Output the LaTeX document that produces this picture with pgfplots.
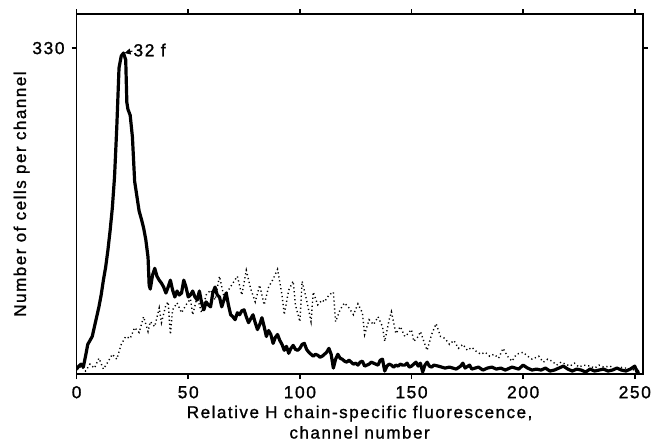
\documentclass[border=0pt]{standalone}
\usepackage{fontspec}
\setmainfont{Liberation Sans}[LetterSpace=9, FakeBold=1.2]
\usepackage{pgfplots}
\pgfplotsset{compat=1.18}
\usetikzlibrary{arrows.meta}

\begin{document}
\begin{tikzpicture}
\path[use as bounding box] (-38.3pt,-33.5pt) rectangle (287.7pt,187pt);
\begin{axis}[
  scale only axis, width=283pt, height=180pt,
  xmin=0, xmax=253.5, ymin=0, ymax=364.5,
  xtick={0,50,...,250}, ytick={330},
  tick align=outside, major tick length=2.5pt,
  axis line style={line width=0.9pt},
  tick style={line width=0.8pt, black},
  /pgf/number format/assume math mode=true,
  ticklabel style={font=\fontsize{8.7}{10}\selectfont},
  xlabel={Relative H chain-specific fluorescence,\\channel number},
  ylabel={Number of cells per channel},
  label style={font=\fontsize{8.5}{10.25}\selectfont},
  xlabel style={align=center, at={(axis description cs:0.5,-0.1792)}, anchor=base},
  ylabel style={at={(axis description cs:-0.0972,0.5)}, anchor=center},
]
% solid histogram
\addplot[black, line width=1.6pt, line join=round] coordinates {
(0,5) (1,8) (2,10) (3,7) (4,18) (5,30) (6,34) (7,38) (8,48) (9,58)
(10,68) (11,80) (12,95) (13,108) (14,125) (15,145) (16,168) (17,200) (18,250) (19,310)
(20,322) (21,325) (22,318) (22.5,275) (23,268) (24,262) (25,240) (26,195) (27,180) (28,165)
(29,157) (30,148) (31,136) (32,118) (32.5,90) (33,86) (34,100) (35,107) (36,99) (37,95)
(38,92) (39,88) (40,82) (41,88) (42,95) (43,85) (44,78) (45,84) (46,80) (47,82)
(48,95) (49,88) (50,78) (51,80) (52,84) (53,78) (54,75) (55,84) (56,72) (57,65)
(58,73) (59,70) (60,68) (61,82) (62,88) (63,80) (64,78) (65,68) (66,75) (67,82)
(68,70) (69,60) (70,58) (71,55) (72,62) (73,60) (74,64) (75,65) (76,58) (77,52)
(78,56) (79,60) (80,52) (81,45) (82,50) (83,57) (84,48) (85,38) (86,44) (87,40)
(88,31) (89,37) (90,40) (91,34) (92,30) (93,24) (94,28) (95,21) (96,26) (97,29)
(98,25) (99,24) (100,26) (101,30) (102,31) (103,25) (104,22) (105,20) (106,18) (107,20)
(108,19) (109,17) (110,18) (111,20) (112,22) (113,26) (114,20) (115,6) (116,15) (117,20)
(118,16) (119,15) (120,13) (121,12) (122,14) (123,12) (124,10) (125,11) (126,9) (127,12)
(128,13) (129,8) (130,9) (131,10) (132,12) (133,11) (134,10) (135,9) (136,14) (137,15)
(138,3) (139,8) (140,10) (141,9) (142,7) (143,9) (144,8) (145,10) (146,9) (147,9)
(148,11) (149,7) (150,8) (151,10) (152,12) (153,8) (154,11) (155,2) (156,9) (157,12)
(158,8) (159,7) (160,9) (162,8) (165,6) (167,7) (170,5) (172,8) (173,11) (174,6)
(176,9) (177,5) (180,7) (182,4) (184,6) (186,7) (188,5) (190,6) (192,4) (195,7)
(198,5) (200,9) (202,6) (204,4) (206,5) (208,4) (210,6) (212,3) (214,4) (216,6)
(218,8) (220,5) (222,3) (224,5) (226,4) (228,2) (230,5) (232,3) (234,4) (236,5)
(238,3) (240,4) (242,6) (244,4) (246,3) (248,5) (250,8) (251,2) (252,3)
};
% dotted histogram
\addplot[black, line width=0.7pt, dash pattern=on 0.6pt off 1.4pt] coordinates {
(0,4) (2,8) (4,3) (6,10) (8,6) (10,16) (12,5) (14,12) (16,20) (18,15)
(20,30) (22,38) (24,36) (26,47) (28,42) (30,58) (32,43) (33,53) (35,48) (37,67)
(38,52) (40,70) (41,73) (42,40) (43,65) (45,72) (47,62) (49,70) (51,76) (52,60)
(54,78) (56,62) (58,80) (60,85) (62,75) (64,99) (66,78) (68,85) (70,92) (72,99)
(74,80) (76,105) (78,86) (80,73) (82,90) (84,70) (86,88) (88,96) (90,106) (92,80)
(93,60) (95,85) (97,94) (98,70) (100,53) (101,94) (103,75) (105,53) (106,83) (108,70)
(110,75) (111,73) (113,80) (115,83) (116,53) (118,65) (120,72) (122,67) (124,60) (126,71)
(128,62) (129,40) (131,55) (133,50) (135,58) (137,48) (138,33) (140,55) (141,63) (143,41)
(145,48) (147,38) (148,40) (150,45) (151,33) (153,38) (154,43) (156,30) (157,24) (159,40)
(161,51) (163,38) (165,36) (167,30) (169,34) (171,26) (173,30) (175,24) (177,27) (179,23)
(181,20) (183,22) (185,18) (187,20) (189,16) (191,26) (193,18) (195,13) (197,20) (200,22)
(202,18) (204,15) (207,18) (209,12) (211,15) (213,13) (215,9) (217,12) (219,10) (221,8)
(223,11) (225,7) (227,9) (230,8) (232,6) (234,9) (236,7) (239,8) (241,5) (243,7)
(246,6) (248,5) (250,4) (252,6)
};
\draw[-{Triangle[length=3pt,width=3pt]}, line width=0.5pt] (axis cs:25,327) -- (axis cs:21.5,325);
\node[anchor=west, inner sep=0pt, font=\fontsize{8.7}{10}\selectfont] at (axis cs:25.3,328) {32 f};
\end{axis}
\end{tikzpicture}
\end{document}
